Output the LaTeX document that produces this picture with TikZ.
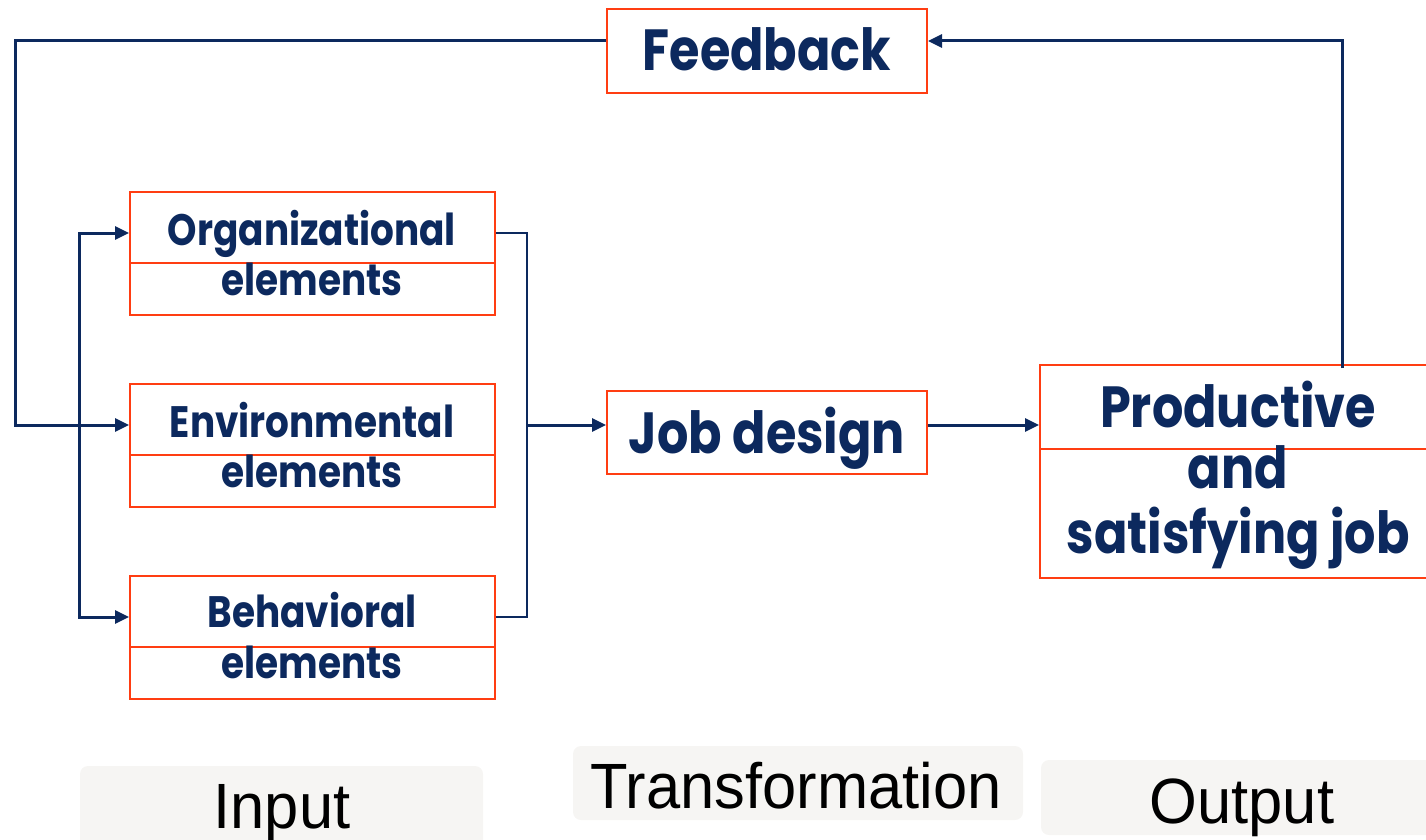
\documentclass[tikz,border=0pt]{standalone}
\usepackage{fontspec}
\setmainfont{Liberation Sans}
\newfontfamily\comic{Poppins}
\usetikzlibrary{arrows.meta}
\definecolor{navy}{RGB}{12,41,94}
\definecolor{redline}{RGB}{255,61,18}
\definecolor{labelbg}{RGB}{246,245,243}
\begin{document}
\begin{tikzpicture}[x=1pt,y=-1pt,
  rbox/.style={draw=redline,line width=2pt,inner sep=0pt,fill=white},
  bigtxt/.style={font=\comic\bfseries\fontsize{58}{62}\selectfont,text=navy,inner sep=0pt,anchor=base,xscale=0.85},
  smalltxt/.style={font=\comic\bfseries\fontsize{44}{48}\selectfont,text=navy,inner sep=0pt,anchor=base,xscale=0.85},
  link/.style={draw=navy,line width=3pt},
  thinlink/.style={draw=navy,line width=2pt},
  arr/.style={link,-{Triangle[length=14pt,width=13pt]}},
  band/.style={fill=labelbg,rounded corners=8pt,inner sep=0pt},
  lbl/.style={font=\fontsize{64}{70}\selectfont,text=black,inner sep=0pt,anchor=base,xscale=0.96}]
\useasboundingbox (0,0) rectangle (1426,840);
\clip (0,0) rectangle (1426,840);

% bottom bands
\node[band,minimum width=403pt,minimum height=90pt] (inb) at (281.5,811) {};
\node[band,minimum width=450pt,minimum height=74pt] (trb) at (798,783) {};
\node[band,minimum width=395pt,minimum height=75pt] (oub) at (1238.5,797.5) {};
\node[lbl] (int) at (282,828) {Input};
\node[lbl] (trt) at (796,808) {Transformation};
\node[lbl] (out) at (1242,823) {Output};

% boxes
\node[rbox,minimum width=320pt,minimum height=84pt] (fb) at (767,51) {};
\node[rbox,minimum width=365pt,minimum height=123pt] (org) at (312.5,253.5) {};
\node[rbox,minimum width=365pt,minimum height=123pt] (env) at (312.5,445.5) {};
\node[rbox,minimum width=365pt,minimum height=123pt] (beh) at (312.5,637.5) {};
\node[rbox,minimum width=320pt,minimum height=83pt] (job) at (767,432.5) {};
\node[rbox,minimum width=396pt,minimum height=213pt] (prod) at (1238,471.5) {};

% split lines
\draw[redline,line width=2pt] (org.west |- 0,263) -- (org.east |- 0,263);
\draw[redline,line width=2pt] (env.west |- 0,455) -- (env.east |- 0,455);
\draw[redline,line width=2pt] (beh.west |- 0,647) -- (beh.east |- 0,647);
\draw[redline,line width=2pt] (prod.west |- 0,449) -- (prod.east |- 0,449);

% texts
\node[bigtxt] (fbt) at (767,71) {Feedback};
\node[smalltxt] (orgt1) at (312,245) {Organizational};
\node[smalltxt] (orgt2) at (312,295) {elements};
\node[smalltxt] (envt1) at (312,437) {Environmental};
\node[smalltxt] (envt2) at (312,487) {elements};
\node[smalltxt] (beht1) at (312,627) {Behavioral};
\node[smalltxt] (beht2) at (312,678) {elements};
\node[bigtxt] (jobt) at (767,453) {Job design};
\node[bigtxt] (prt1) at (1238,427) {Productive};
\node[bigtxt] (prt2) at (1238,488) {and};
\node[bigtxt] (prt3) at (1238,553) {satisfying job};

% connectors
\coordinate (fbL) at (15,41);
\coordinate (fbLB) at (15,425);
\coordinate (busL) at (79,425);
\coordinate (busRt) at (527,233);
\coordinate (busRm) at (527,425);
\coordinate (busRb) at (527,617);
\coordinate (fbR) at (1342,41);

\draw[arr] ([yshift=10pt]fb.west) -- (fbL) -- (fbLB) -- ([yshift=20.5pt]env.west);
\draw[arr] (busL) |- ([yshift=20.5pt]org.west);
\draw[arr] (busL) |- ([yshift=20.5pt]beh.west);
\draw[thinlink] ([yshift=20.5pt]org.east) -- (busRt) -- (busRb) -- ([yshift=20.5pt]beh.east);
\draw[arr] (busRm) -- ([yshift=7.5pt]job.west);
\draw[arr] ([yshift=7.5pt]job.east) -- (prod.west |- busRm);
\draw[arr] ([yshift=-4pt]prod.north -| fbR) -- (fbR) -- ([yshift=10pt]fb.east);
\end{tikzpicture}
\end{document}
